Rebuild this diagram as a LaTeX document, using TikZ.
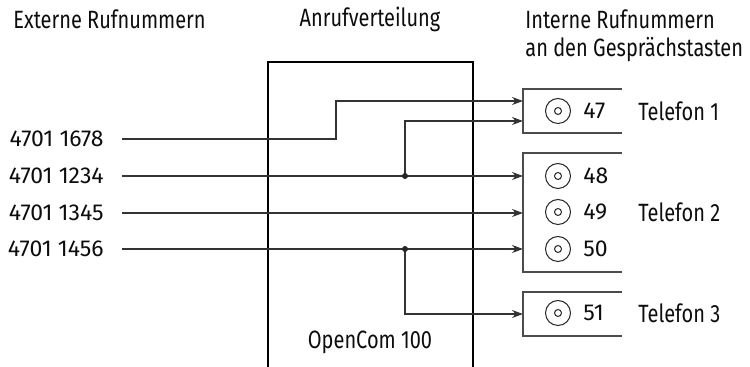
\documentclass[tikz,border=0pt]{standalone}
\usepackage{fontspec}
\setmainfont{Fira Sans}[FakeStretch=0.8]
\newfontfamily\numfont{Fira Sans}
\usetikzlibrary{arrows.meta}

\begin{document}
\begin{tikzpicture}[x=0.5pt,y=-0.5pt,>={Stealth[length=5.5pt,width=4pt]},
    txt/.style={inner sep=0pt,font=\fontsize{12.5}{14}\selectfont,text=black!95},
    numtxt/.style={inner sep=0pt,font=\numfont\fontsize{11.5}{14}\selectfont,text=black!95},
    wire/.style={line width=0.6pt,draw=black!80},
    bracket/.style={line width=0.6pt,draw=black!70},
    key/.style={circle,draw=black!85,line width=0.5pt,minimum size=12.5pt,inner sep=0pt}]
  \useasboundingbox (0,0) rectangle (750,367);
  % headings
  \node[txt,anchor=west] (hext) at (13,19) {Externe Rufnummern};
  \node[txt] (hverteil) at (370,19) {Anrufverteilung};
  \node[txt,anchor=west] (hint) at (525,19) {Interne Rufnummern};
  \node[txt,anchor=west] (hint2) at (525,50) {an den Gesprächstasten};
  % OpenCom 100
  \draw[line width=1pt] (268,367) -- (268,62) -- (473,62) -- (473,367);
  \node[txt] (opencom) at (370,342) {OpenCom 100};
  % external numbers
  \foreach \num/\y in {1678/139,1234/176,1345/213,1456/249}
    \node[numtxt,anchor=east,inner xsep=9pt] (n\num) at (122,\y) {4701 \num};
  % telephone brackets
  \draw[bracket] (622,89) -- (523,89) -- (523,133) -- (622,133);
  \draw[bracket] (622,153) -- (523,153) -- (523,272) -- (622,272);
  \draw[bracket] (622,292) -- (523,292) -- (523,336) -- (622,336);
  \foreach \k/\y in {47/111,48/176,49/212,50/249,51/313} {
    \node[key] (k\k) at (558,\y) {};
    \draw[black!85,line width=0.5pt] (k\k) circle[radius=3.5];
    \node[numtxt,anchor=west] (t\k) at (583,\y) {\k};
  }
  \node[txt,anchor=west] (tel1) at (638,111) {Telefon 1};
  \node[txt,anchor=west] (tel2) at (638,212) {Telefon 2};
  \node[txt,anchor=west] (tel3) at (638,313) {Telefon 3};
  % arrow targets
  \coordinate (in47a) at (523,101);
  \coordinate (in47b) at (523,121);
  \coordinate (in48) at (523,176);
  \coordinate (in49) at (523,213);
  \coordinate (in50) at (523,249);
  \coordinate (in51) at (523,314);
  \coordinate (jmp) at (336,139);
  \coordinate (dot1) at (405,176);
  \coordinate (dot2) at (405,249);
  % wiring
  \draw[wire,->] (n1678.east) -- (jmp) |- (in47a);
  \draw[wire,->] (n1234.east) -- (in48);
  \draw[wire,->] (dot1) |- (in47b);
  \draw[wire,->] (n1345.east) -- (in49);
  \draw[wire,->] (n1456.east) -- (in50);
  \draw[wire,->] (dot2) |- (in51);
  \fill[black!85] (dot1) circle[radius=3] (dot2) circle[radius=3];
\end{tikzpicture}
\end{document}
